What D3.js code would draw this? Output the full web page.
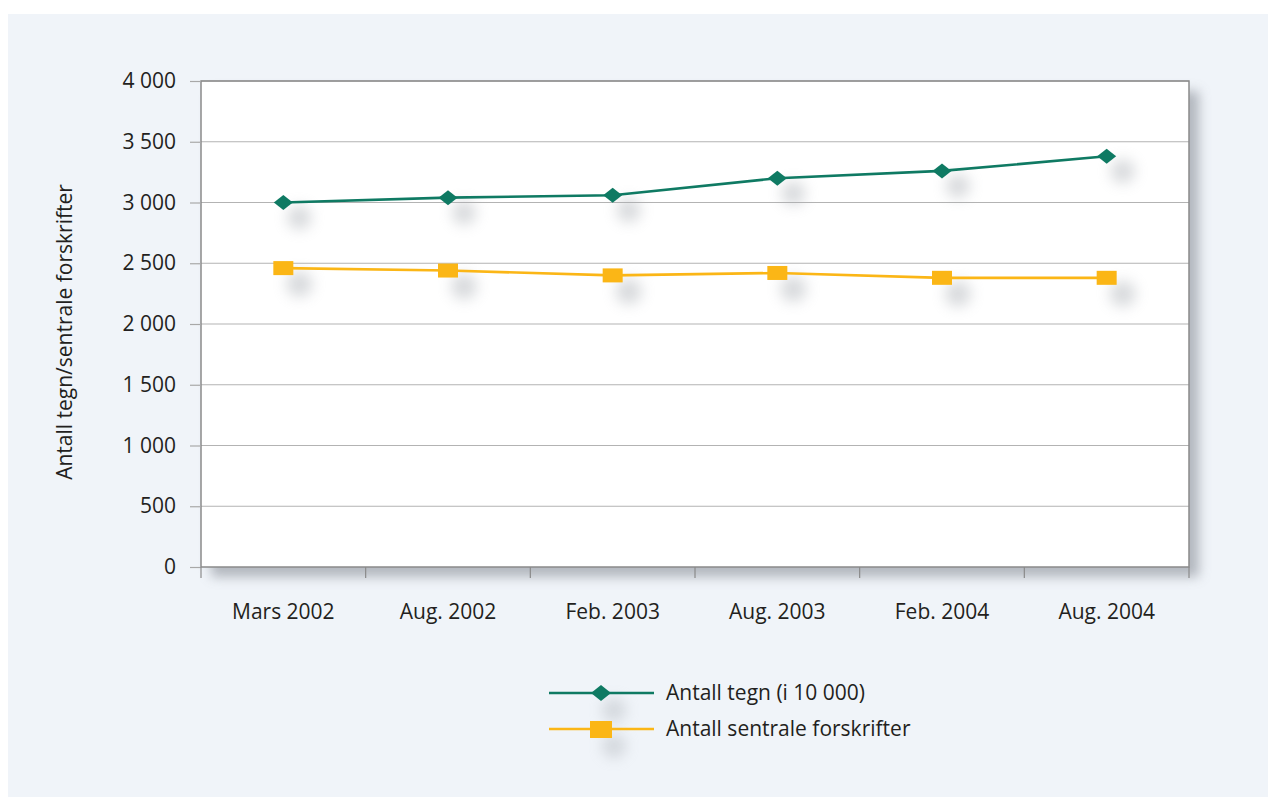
<!DOCTYPE html>
<html>
<head>
<meta charset="utf-8">
<script src="https://cdn.jsdelivr.net/npm/d3@7"></script>
<style>
  html, body { margin: 0; padding: 0; background: #ffffff; }
  svg { display: block; }
  text { font-family: "Open Sans", "Noto Sans", sans-serif; fill: #231f20; }
</style>
</head>
<body>
<svg id="chart" width="1268" height="797"></svg>
<script>
// Periods on the x axis
const categories = ["Mars 2002", "Aug. 2002", "Feb. 2003", "Aug. 2003", "Feb. 2004", "Aug. 2004"];
// Number of characters (in units of 10 000)
const tegnValues = [3000, 3040, 3060, 3200, 3260, 3380];
// Number of central regulations
const forskrifterValues = [2460, 2440, 2400, 2420, 2380, 2380];
// Y axis ticks
const yTicks = [0, 500, 1000, 1500, 2000, 2500, 3000, 3500, 4000];
const seriesNames = ["Antall tegn (i 10 000)", "Antall sentrale forskrifter"];
const yTitle = "Antall tegn/sentrale forskrifter";

const teal = "#0f7a63";
const yellow = "#fbb616";
const fontSize = 21;

const svg = d3.select("#chart");
const defs = svg.append("defs");

const shadow = defs.append("filter").attr("id", "blurShadow")
  .attr("x", "-20%").attr("y", "-20%").attr("width", "140%").attr("height", "140%");
shadow.append("feGaussianBlur").attr("stdDeviation", 6);

const markShadow = defs.append("filter").attr("id", "markShadow")
  .attr("x", "-200%").attr("y", "-200%").attr("width", "500%").attr("height", "500%");
markShadow.append("feGaussianBlur").attr("stdDeviation", 7);

// Panel background
svg.append("rect").attr("x", 8).attr("y", 14).attr("width", 1260).attr("height", 783)
  .attr("fill", "#f0f4f9");

const plotL = 201, plotR = 1189, plotT = 81, plotB = 567;

const x = d3.scaleBand().domain(categories).range([plotL, plotR]);
const y = d3.scaleLinear().domain([0, 4000]).range([plotB, plotT]);

// Plot area shadow
svg.append("rect").attr("x", plotL + 10).attr("y", plotT + 10)
  .attr("width", plotR - plotL).attr("height", plotB - plotT)
  .attr("fill", "#9ea3aa").attr("opacity", 0.75).attr("filter", "url(#blurShadow)");

// Plot area
svg.append("rect").attr("x", plotL).attr("y", plotT)
  .attr("width", plotR - plotL).attr("height", plotB - plotT)
  .attr("fill", "#ffffff");

// Gridlines
svg.append("g").selectAll("line").data(yTicks.filter(d => d > 0)).join("line")
  .attr("x1", plotL).attr("x2", plotR)
  .attr("y1", d => y(d)).attr("y2", d => y(d))
  .attr("stroke", "#b3b3b3").attr("stroke-width", 1.2);

// Frame
svg.append("rect").attr("x", plotL).attr("y", plotT)
  .attr("width", plotR - plotL).attr("height", plotB - plotT)
  .attr("fill", "none").attr("stroke", "#8a8a8a").attr("stroke-width", 1.5);

// Y axis
const yAxis = svg.append("g").attr("transform", `translate(${plotL},0)`)
  .call(d3.axisLeft(y).tickValues(yTicks).tickSize(11).tickPadding(14)
    .tickFormat(d => d >= 1000 ? `${Math.floor(d / 1000)} ${String(d % 1000).padStart(3, "0")}` : String(d)));
yAxis.select(".domain").remove();
yAxis.selectAll(".tick line").attr("stroke", "#a8a8a8").attr("stroke-width", 1.2);
yAxis.selectAll(".tick text").attr("font-size", fontSize).style("fill", "#231f20")
  .style("font-family", "'Open Sans', 'Noto Sans', sans-serif");

// X axis: ticks at band boundaries
const boundaries = categories.map(c => x(c)).concat([plotR]);
svg.append("g").selectAll("line").data(boundaries).join("line")
  .attr("x1", d => d).attr("x2", d => d)
  .attr("y1", plotB).attr("y2", plotB + 11)
  .attr("stroke", "#8a8a8a").attr("stroke-width", 1.2);

svg.append("g").selectAll("text").data(categories).join("text")
  .attr("x", d => x(d) + x.bandwidth() / 2)
  .attr("y", 619)
  .attr("text-anchor", "middle")
  .attr("font-size", fontSize)
  .text(d => d);

// Y title
svg.append("text")
  .attr("transform", `translate(72,${(plotT + plotB) / 2 + 8}) rotate(-90)`)
  .attr("text-anchor", "middle")
  .attr("font-size", fontSize)
  .text(yTitle);

const cx = d => x(d) + x.bandwidth() / 2;
const line = d3.line().x(d => cx(d[0])).y(d => y(d[1]));

const tegnData = categories.map((c, i) => [c, tegnValues[i]]);
const forskData = categories.map((c, i) => [c, forskrifterValues[i]]);

const diamond = (w, h) => `M0,${-h} L${w},0 L0,${h} L${-w},0 Z`;

// Marker shadows
const shadows = svg.append("g").attr("filter", "url(#markShadow)").attr("fill", "#a9adb3").attr("opacity", 0.45);
shadows.selectAll(".ds").data(tegnData).join("circle").attr("class", "ds")
  .attr("cx", d => cx(d[0]) + 16).attr("cy", d => y(d[1]) + 15).attr("r", 12);
shadows.selectAll(".ss").data(forskData).join("circle").attr("class", "ss")
  .attr("cx", d => cx(d[0]) + 16).attr("cy", d => y(d[1]) + 16).attr("r", 13);

// Lines
svg.append("path").datum(tegnData).attr("d", line)
  .attr("fill", "none").attr("stroke", teal).attr("stroke-width", 2.6);
svg.append("path").datum(forskData).attr("d", line)
  .attr("fill", "none").attr("stroke", yellow).attr("stroke-width", 2.6);

// Markers
svg.append("g").selectAll("path").data(tegnData).join("path")
  .attr("transform", d => `translate(${cx(d[0])},${y(d[1])})`)
  .attr("d", diamond(9.5, 7.5)).attr("fill", teal);
svg.append("g").selectAll("rect").data(forskData).join("rect")
  .attr("x", d => cx(d[0]) - 10).attr("y", d => y(d[1]) - 7)
  .attr("width", 20).attr("height", 14).attr("fill", yellow);

// Legend
const legend = svg.append("g");
const legendY = [693, 729];
const colors = [teal, yellow];
legend.selectAll(".lsh").data(legendY).join("circle").attr("class", "lsh")
  .attr("cx", 614).attr("cy", d => d + 17).attr("r", 12)
  .attr("fill", "#a9adb3").attr("opacity", 0.4).attr("filter", "url(#markShadow)");
legendY.forEach((ly, i) => {
  legend.append("line").attr("x1", 549).attr("x2", 654).attr("y1", ly).attr("y2", ly)
    .attr("stroke", colors[i]).attr("stroke-width", 2.6);
  if (i === 0) {
    legend.append("path").attr("transform", `translate(601,${ly})`).attr("d", diamond(10, 8)).attr("fill", teal);
  } else {
    legend.append("rect").attr("x", 590).attr("y", ly - 8).attr("width", 22).attr("height", 17).attr("fill", yellow);
  }
  legend.append("text").attr("x", 666).attr("y", ly + 7).attr("font-size", fontSize).text(seriesNames[i]);
});
</script>
</body>
</html>
